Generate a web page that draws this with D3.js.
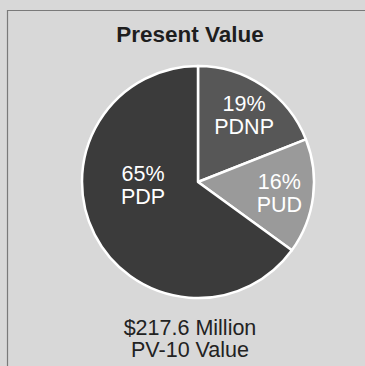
<!DOCTYPE html>
<html>
<head>
<meta charset="utf-8">
<script src="https://cdn.jsdelivr.net/npm/d3@7"></script>
<style>
  html, body { margin: 0; padding: 0; background: #d8d8d8; }
  svg { display: block; }
  text { font-family: "Liberation Sans", Arial, Helvetica, sans-serif; }
</style>
</head>
<body>
<script>
// Reserve categories and their share of present value (%)
const categories = ["PDNP", "PUD", "PDP"];
const shares = [19, 16, 65];
const sliceColors = ["#575757", "#9a9a9a", "#3b3b3b"];
const title = "Present Value";
const footerLines = ["$217.6 Million", "PV-10 Value"];

const W = 365, H = 366;
const cx = 198, cy = 182, R = 116;

const svg = d3.select("body").append("svg")
  .attr("width", W).attr("height", H);

svg.append("rect").attr("width", W).attr("height", H).attr("fill", "#d8d8d8");

// panel frame (top and left edges visible)
svg.append("path")
  .attr("d", `M7.5,${H} L7.5,10.5 L${W},10.5`)
  .attr("fill", "none")
  .attr("stroke", "#7a7a7a")
  .attr("stroke-width", 1.2);

svg.append("text")
  .attr("x", 190).attr("y", 42)
  .attr("text-anchor", "middle")
  .attr("font-size", 22.5)
  .attr("font-weight", "bold")
  .attr("fill", "#1e1e1e")
  .text(title);

const data = categories.map((c, i) => ({ cat: c, value: shares[i], color: sliceColors[i] }));

const pie = d3.pie().value(d => d.value).sort(null);
const arcs = pie(data);
const arc = d3.arc().innerRadius(0).outerRadius(R);
const labelArc = d3.arc().innerRadius(82).outerRadius(82);

const g = svg.append("g").attr("transform", `translate(${cx},${cy})`);

g.selectAll("path.slice")
  .data(arcs)
  .join("path")
  .attr("class", "slice")
  .attr("d", arc)
  .attr("fill", d => d.data.color)
  .attr("stroke", "#ffffff")
  .attr("stroke-width", 2.5)
  .attr("stroke-linejoin", "round");

// label anchor: centroid on a fixed radius, the large slice is labelled nearer the middle
function labelPos(d) {
  if (d.data.cat === "PDP") {
    return [-55, 2];
  }
  return labelArc.centroid(d);
}

const labels = g.selectAll("g.lbl")
  .data(arcs)
  .join("g")
  .attr("class", "lbl")
  .attr("transform", d => { const p = labelPos(d); return `translate(${p[0]},${p[1]})`; });

labels.append("text")
  .attr("y", -3.5)
  .attr("text-anchor", "middle")
  .attr("font-size", 21.5)
  .attr("fill", "#ffffff")
  .text(d => d.data.value + "%");

labels.append("text")
  .attr("y", 20)
  .attr("text-anchor", "middle")
  .attr("font-size", 21.5)
  .attr("fill", "#ffffff")
  .text(d => d.data.cat);

svg.selectAll("text.footer")
  .data(footerLines)
  .join("text")
  .attr("class", "footer")
  .attr("x", 190)
  .attr("y", (d, i) => 335 + i * 22)
  .attr("text-anchor", "middle")
  .attr("font-size", 21.5)
  .attr("fill", "#222222")
  .text(d => d);
</script>
</body>
</html>
